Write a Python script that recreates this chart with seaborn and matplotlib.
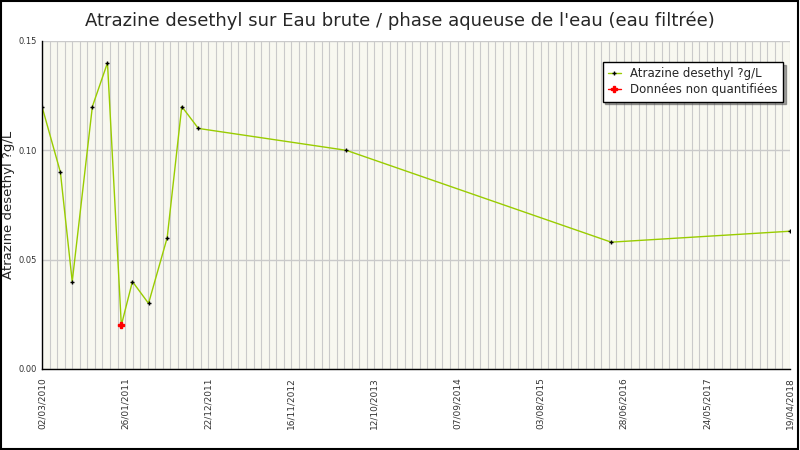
import matplotlib
matplotlib.use('Agg')
import matplotlib.pyplot as plt
import matplotlib.dates as mdates
from matplotlib.ticker import MultipleLocator, FixedLocator
from matplotlib.patches import Rectangle
import seaborn as sns
import pandas as pd
import numpy as np

# sample dates and concentrations (ug/L)
dates = ["2010-03-02", "2010-05-14", "2010-06-30", "2010-09-18", "2010-11-17",
         "2011-01-11", "2011-02-24", "2011-04-29", "2011-07-12", "2011-09-08",
         "2011-11-13", "2013-06-22", "2016-05-09", "2018-04-19"]
values = [0.12, 0.09, 0.04, 0.12, 0.14, 0.02, 0.04, 0.03, 0.06, 0.12,
          0.11, 0.10, 0.058, 0.063]
# 1 = below quantification limit
non_quantified = [0, 0, 0, 0, 0, 1, 0, 0, 0, 0, 0, 0, 0, 0]

tick_start = "2010-03-02"
tick_step_days = 330
n_ticks = 10

title = "Atrazine desethyl sur Eau brute / phase aqueuse de l'eau (eau filtrée)"
ylabel = "Atrazine desethyl ?g/L"
series_label = "Atrazine desethyl ?g/L"
nq_label = "Données non quantifiées"

df = pd.DataFrame({"date": pd.to_datetime(dates), "value": values, "nq": non_quantified})

sns.set_style("white")
plt.rcParams['font.family'] = ['DejaVu Sans']

fig = plt.figure(figsize=(8, 4.5), dpi=100)
fig.patches.append(Rectangle((0.001, 0.002), 0.997, 0.996, transform=fig.transFigure,
                             fill=False, edgecolor='black', linewidth=1.5))
ax = fig.add_axes([0.0525, 0.18, 0.935, 0.729])
ax.set_facecolor('#F8F8F0')

line_color = '#99CC00'
sns.lineplot(data=df, x="date", y="value", ax=ax, color=line_color, linewidth=1,
             marker='+', markersize=3.5, markeredgecolor='black', markeredgewidth=1,
             label=series_label, legend=False)
nq = df[df["nq"] == 1]
ax.plot(nq["date"], nq["value"], linestyle='none', marker='P', markersize=4,
        color='red', markeredgecolor='red')

start = pd.Timestamp(tick_start)
ticks = [start + pd.Timedelta(days=tick_step_days * i) for i in range(n_ticks)]
minor = [start + pd.Timedelta(days=30 * i) for i in range(int(tick_step_days * (n_ticks - 1) / 30) + 1)]
ax.xaxis.set_major_locator(FixedLocator(mdates.date2num(ticks)))
ax.xaxis.set_minor_locator(FixedLocator(mdates.date2num(minor)))
ax.xaxis.set_major_formatter(mdates.DateFormatter('%d/%m/%Y'))
ax.set_xlim(ticks[0], ticks[-1])
ax.set_ylim(0, 0.15)
ax.yaxis.set_major_locator(MultipleLocator(0.05))
ax.yaxis.set_minor_locator(MultipleLocator(0.0125))
ax.yaxis.set_major_formatter(matplotlib.ticker.FormatStrFormatter('%.2f'))

ax.grid(which='minor', axis='x', color='#CACACA', linewidth=0.8)
ax.grid(which='major', axis='x', color='#CACACA', linewidth=0.8)
ax.grid(which='major', axis='y', color='#CACACA', linewidth=1)
ax.set_axisbelow(True)

for s in ['top', 'right']:
    ax.spines[s].set_visible(False)
for s in ['left', 'bottom']:
    ax.spines[s].set_color('black')
    ax.spines[s].set_linewidth(1)

ax.tick_params(axis='x', which='both', direction='in', length=5, width=0.8, colors='black',
               labelsize=6.5, labelrotation=90, pad=6)
ax.tick_params(axis='y', which='both', direction='in', length=6, width=0.8, colors='black',
               labelsize=6, pad=4)
for lab in ax.get_xticklabels():
    lab.set_color('#333333')
for lab in ax.get_yticklabels():
    lab.set_color('#333333')

ax.set_xlabel("")
ax.set_ylabel(ylabel, fontsize=9.5)
ax.yaxis.set_label_coords(-0.0365, 0.5)
fig.suptitle(title, fontsize=13, y=0.975)

handles = [
    matplotlib.lines.Line2D([], [], color=line_color, linewidth=1, marker='+',
                            markersize=3.5, markeredgecolor='black'),
    matplotlib.lines.Line2D([], [], color='red', linewidth=1, marker='P',
                            markersize=4, markeredgecolor='red'),
]
leg = ax.legend(handles, [series_label, nq_label], loc='upper right',
                bbox_to_anchor=(0.9955, 0.9466), fontsize=8.5, frameon=True, fancybox=False,
                shadow=True, handlelength=1.1, borderpad=0.45, labelspacing=0.25,
                handletextpad=0.8, borderaxespad=0.3)
leg.get_frame().set_edgecolor('black')
leg.get_frame().set_linewidth(1)

fig.savefig("out.png", dpi=100)
